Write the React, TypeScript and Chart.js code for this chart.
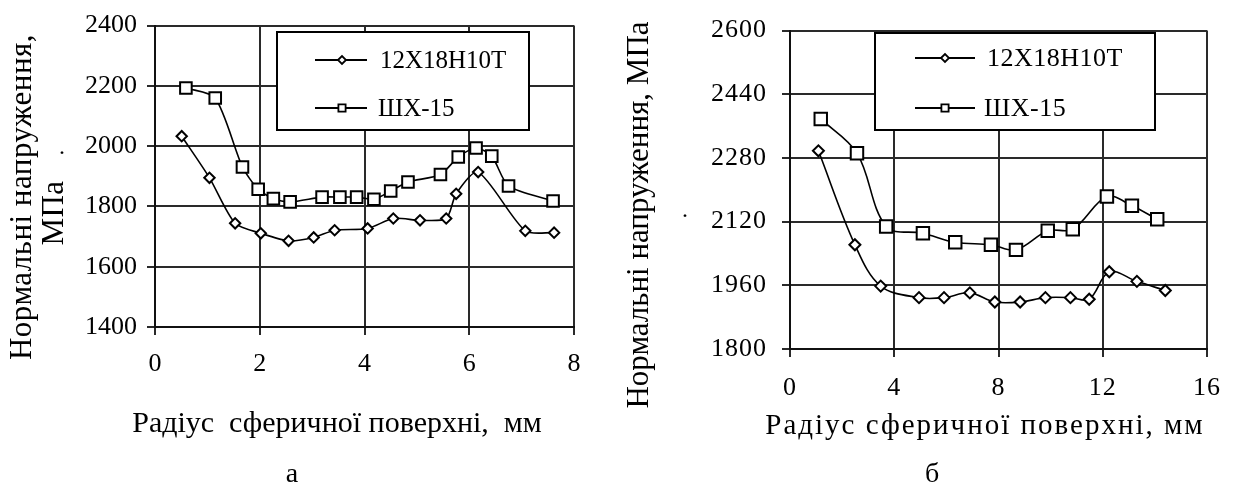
import React, { useEffect, useRef } from "react";
import { Chart, registerables } from "chart.js";

Chart.register(...registerables);

const FONT = "'Liberation Serif', 'Times New Roman', serif";

// ---------- Panel а ----------
const radiusA_steel = [0.51, 1.04, 1.53, 2.02, 2.55, 3.03, 3.43, 4.06, 4.55, 5.06, 5.56, 5.75, 6.17, 7.07, 7.62];
const stressA_steel = [2033, 1895, 1744, 1711, 1686, 1697, 1721, 1727, 1760, 1754, 1760, 1842, 1914, 1719, 1713];
const radiusA_shx = [0.59, 1.15, 1.67, 1.97, 2.26, 2.58, 3.19, 3.53, 3.85, 4.18, 4.5, 4.83, 5.45, 5.79, 6.13, 6.43, 6.75, 7.6];
const stressA_shx = [2193, 2160, 1931, 1857, 1826, 1815, 1831, 1831, 1831, 1824, 1851, 1881, 1906, 1964, 1994, 1967, 1868, 1818];
const xTicksA = [0, 2, 4, 6, 8];
const yTicksA = [1400, 1600, 1800, 2000, 2200, 2400];

// ---------- Panel б ----------
const radiusB_steel = [1.09, 2.49, 3.48, 4.95, 5.91, 6.9, 7.86, 8.83, 9.8, 10.76, 11.48, 12.25, 13.31, 14.4];
const stressB_steel = [2298, 2062, 1958, 1929, 1929, 1941, 1918, 1918, 1929, 1929, 1925, 1994, 1970, 1947];
const radiusB_shx = [1.18, 2.57, 3.69, 5.1, 6.34, 7.71, 8.67, 9.89, 10.85, 12.16, 13.12, 14.09];
const stressB_shx = [2378, 2292, 2108, 2091, 2068, 2062, 2049, 2097, 2101, 2183, 2160, 2126];
const xTicksB = [0, 4, 8, 12, 16];
const yTicksB = [1800, 1960, 2120, 2280, 2440, 2600];

// ---------- Texts ----------
const seriesNames = ["12Х18Н10Т", "ШХ-15"];
const yTitleA = ["Нормальні напруження,", "МПа"];
const yTitleB = ["Нормальні напруження, МПа"];
const xTitleA = "Радіус  сферичної поверхні,  мм";
const xTitleB = "Радіус сферичної поверхні, мм";
const panelLetters = ["а", "б"];

type TextItem = { text: string; x: number; y: number };
type Spec = {
  left: number;
  xs: number[][];
  ys: number[][];
  xTicks: number[];
  yTicks: number[];
  padding: { top: number; right: number; bottom: number };
  yWidth: number;
  xHeight: number;
  yTickPad: number;
  xTickPad: number;
  tickFont: number;
  tickSpacing: number;
  tension: number;
  sqR: number;
  diR: number;
  yTitle: TextItem[];
  yTitleFont: number;
  yTitleSpacing: number;
  dot: { x: number; y: number };
  xTitle: TextItem;
  xTitleFont: number;
  xTitleSpacing: number;
  letter: TextItem;
  legend: {
    x: number; y: number; w: number; h: number;
    rows: number[]; lineX: [number, number]; markerX: number; textX: number[];
    font: number; spacing: number;
  };
};

const W = 618;
const H = 486;

const specA: Spec = {
  left: 0,
  xs: [radiusA_steel, radiusA_shx],
  ys: [stressA_steel, stressA_shx],
  xTicks: xTicksA,
  yTicks: yTicksA,
  padding: { top: 24, right: 44, bottom: 99 },
  yWidth: 155,
  xHeight: 60,
  yTickPad: 10,
  xTickPad: 14,
  tickFont: 26,
  tickSpacing: 0,
  tension: 0.25,
  sqR: 8.2,
  diR: 5.2,
  yTitle: [
    { text: yTitleA[0], x: 23, y: 197 },
    { text: yTitleA[1], x: 55, y: 213 },
  ],
  yTitleFont: 31,
  yTitleSpacing: 0.5,
  dot: { x: 62, y: 152 },
  xTitle: { text: xTitleA, x: 337, y: 432 },
  xTitleFont: 30,
  xTitleSpacing: 0,
  letter: { text: panelLetters[0], x: 292, y: 482 },
  legend: {
    x: 277, y: 32, w: 252, h: 98,
    rows: [60, 108], lineX: [315, 367], markerX: 342, textX: [380, 378],
    font: 25, spacing: 0,
  },
};

const specB: Spec = {
  left: 618,
  xs: [radiusB_steel, radiusB_shx],
  ys: [stressB_steel, stressB_shx],
  xTicks: xTicksB,
  yTicks: yTicksB,
  padding: { top: 24, right: 18, bottom: 77 },
  yWidth: 172,
  xHeight: 60,
  yTickPad: 15,
  xTickPad: 16,
  tickFont: 26,
  tickSpacing: 1,
  tension: 0.35,
  sqR: 8.8,
  diR: 5.5,
  yTitle: [{ text: yTitleB[0], x: 22, y: 215 }],
  yTitleFont: 31,
  yTitleSpacing: 0,
  dot: { x: 67, y: 215 },
  xTitle: { text: xTitleB, x: 367, y: 434 },
  xTitleFont: 29,
  xTitleSpacing: 2,
  letter: { text: panelLetters[1], x: 314, y: 482 },
  legend: {
    x: 257, y: 33, w: 280, h: 97,
    rows: [58, 108], lineX: [297, 357], markerX: 327, textX: [369, 366],
    font: 26, spacing: 0.5,
  },
};

function decorPlugin(spec: Spec) {
  return {
    id: "decor",
    beforeDraw(chart: any) {
      (chart.ctx as any).letterSpacing = `${spec.tickSpacing}px`;
    },
    afterDatasetsDraw(chart: any) {
      const ctx: CanvasRenderingContext2D = chart.ctx;
      const lg = spec.legend;
      ctx.save();
      ctx.fillStyle = "#fff";
      ctx.fillRect(lg.x, lg.y, lg.w, lg.h);
      ctx.strokeStyle = "#000";
      ctx.lineWidth = 2;
      ctx.strokeRect(lg.x, lg.y, lg.w, lg.h);
      const styles = ["diamond", "square"];
      lg.rows.forEach((ry, i) => {
        ctx.strokeStyle = "#000";
        ctx.lineWidth = 2;
        ctx.beginPath();
        ctx.moveTo(lg.lineX[0], ry);
        ctx.lineTo(lg.lineX[1], ry);
        ctx.stroke();
        ctx.fillStyle = "#fff";
        ctx.lineWidth = 1.8;
        ctx.beginPath();
        if (styles[i] === "diamond") {
          const r = 4;
          ctx.moveTo(lg.markerX - r, ry);
          ctx.lineTo(lg.markerX, ry - r);
          ctx.lineTo(lg.markerX + r, ry);
          ctx.lineTo(lg.markerX, ry + r);
          ctx.closePath();
        } else {
          const s = 3.6;
          ctx.rect(lg.markerX - s, ry - s, 2 * s, 2 * s);
        }
        ctx.fill();
        ctx.stroke();
        ctx.fillStyle = "#000";
        ctx.font = `${lg.font}px ${FONT}`;
        (ctx as any).letterSpacing = `${lg.spacing}px`;
        ctx.textAlign = "left";
        ctx.textBaseline = "middle";
        ctx.fillText(chart.data.datasets[i].label, lg.textX[i], ry + 1);
      });
      ctx.restore();
    },
    afterDraw(chart: any) {
      const ctx: CanvasRenderingContext2D = chart.ctx;
      ctx.save();
      ctx.fillStyle = "#000";
      ctx.font = `${spec.yTitleFont}px ${FONT}`;
      (ctx as any).letterSpacing = `${spec.yTitleSpacing}px`;
      ctx.textAlign = "center";
      ctx.textBaseline = "middle";
      spec.yTitle.forEach((t) => {
        ctx.save();
        ctx.translate(t.x, t.y);
        ctx.rotate(-Math.PI / 2);
        ctx.fillText(t.text, 0, 0);
        ctx.restore();
      });
      (ctx as any).letterSpacing = "0px";
      ctx.font = `24px ${FONT}`;
      ctx.textAlign = "center";
      ctx.textBaseline = "alphabetic";
      ctx.fillText(".", spec.dot.x, spec.dot.y + 1.5);
      ctx.font = `${spec.xTitleFont}px ${FONT}`;
      (ctx as any).letterSpacing = `${spec.xTitleSpacing}px`;
      ctx.fillText(spec.xTitle.text, spec.xTitle.x, spec.xTitle.y);
      (ctx as any).letterSpacing = "0px";
      ctx.font = `28px ${FONT}`;
      ctx.fillText(spec.letter.text, spec.letter.x, spec.letter.y);
      ctx.restore();
    },
  };
}

function buildConfig(spec: Spec): any {
  const grid = { color: "#2a2a2a", lineWidth: 2, tickLength: 8, drawTicks: true };
  const border = { color: "#111", width: 2 };
  const fmt = (v: number) => String(v);
  return {
    type: "line",
    data: {
      datasets: [0, 1].map((i) => ({
        label: seriesNames[i],
        data: spec.xs[i].map((x, k) => ({ x, y: spec.ys[i][k] })),
        pointStyle: i === 0 ? "rectRot" : "rect",
        pointRadius: i === 0 ? spec.diR : spec.sqR,
        pointHoverRadius: i === 0 ? spec.diR : spec.sqR,
        pointBorderWidth: 2,
        pointBackgroundColor: "#fff",
        pointBorderColor: "#000",
        borderColor: "#000",
        borderWidth: 1.6,
        tension: spec.tension,
        fill: false,
        clip: false,
      })),
    },
    options: {
      animation: false,
      responsive: false,
      events: [],
      layout: { padding: { left: 0, top: spec.padding.top, right: spec.padding.right, bottom: spec.padding.bottom } },
      plugins: { legend: { display: false }, tooltip: { enabled: false }, title: { display: false } },
      scales: {
        x: {
          type: "linear",
          min: spec.xTicks[0],
          max: spec.xTicks[spec.xTicks.length - 1],
          afterBuildTicks: (s: any) => { s.ticks = spec.xTicks.map((v) => ({ value: v })); },
          afterFit: (s: any) => { s.height = spec.xHeight; },
          grid,
          border,
          ticks: { font: { family: FONT, size: spec.tickFont }, color: "#000", padding: spec.xTickPad, maxRotation: 0, autoSkip: false, callback: fmt },
        },
        y: {
          type: "linear",
          min: spec.yTicks[0],
          max: spec.yTicks[spec.yTicks.length - 1],
          afterBuildTicks: (s: any) => { s.ticks = spec.yTicks.map((v) => ({ value: v })); },
          afterFit: (s: any) => { s.width = spec.yWidth; },
          grid,
          border,
          ticks: { font: { family: FONT, size: spec.tickFont }, color: "#000", padding: spec.yTickPad, autoSkip: false, callback: fmt },
        },
      },
    },
    plugins: [decorPlugin(spec)],
  };
}

function Panel({ spec }: { spec: Spec }) {
  const ref = useRef<HTMLCanvasElement>(null);
  useEffect(() => {
    const chart = new Chart(ref.current as HTMLCanvasElement, buildConfig(spec));
    return () => chart.destroy();
  }, [spec]);
  return (
    <div style={{ position: "absolute", left: spec.left, top: 0, width: W, height: H }}>
      <canvas ref={ref} width={W} height={H} style={{ display: "block" }} />
    </div>
  );
}

export default function App() {
  return (
    <div style={{ position: "absolute", left: 0, top: 0, width: 1236, height: 486, background: "#fff", overflow: "hidden" }}>
      <Panel spec={specA} />
      <Panel spec={specB} />
    </div>
  );
}
